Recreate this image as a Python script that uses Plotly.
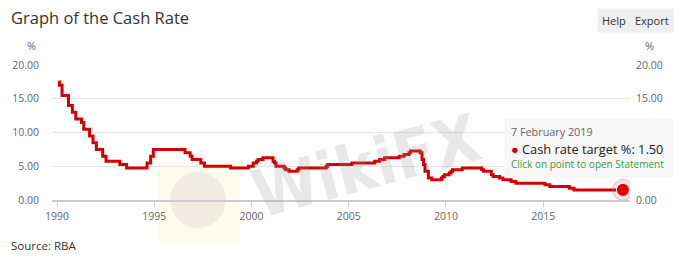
import plotly.graph_objects as go

# RBA cash rate target changes (date of change, new rate %)
change_dates = ["1990-01-23","1990-02-15","1990-04-04","1990-08-02","1990-10-15","1990-12-18",
    "1991-04-04","1991-05-16","1991-09-03","1991-11-06","1992-01-08","1992-05-06","1992-07-08",
    "1993-03-23","1993-07-30","1994-08-17","1994-10-24","1994-12-14","1996-07-31","1996-11-06",
    "1996-12-11","1997-05-23","1997-07-30","1998-12-02","1999-11-03","2000-02-02","2000-04-05",
    "2000-05-03","2000-08-02","2001-02-07","2001-03-07","2001-04-04","2001-09-05","2001-10-03",
    "2001-12-05","2002-05-08","2002-06-05","2003-11-05","2003-12-03","2005-03-02","2006-05-03",
    "2006-08-02","2006-11-08","2007-08-08","2007-11-07","2008-02-06","2008-03-05","2008-09-03",
    "2008-10-08","2008-11-05","2008-12-03","2009-02-04","2009-04-08","2009-10-07","2009-11-04",
    "2009-12-02","2010-03-03","2010-04-07","2010-05-05","2010-11-03","2011-11-02","2011-12-07",
    "2012-05-02","2012-06-06","2012-10-03","2012-12-05","2013-05-08","2013-08-07","2015-02-04",
    "2015-05-06","2016-05-04","2016-08-03","2019-02-07"]
cash_rate = [17.5,17.0,15.5,14.0,13.0,12.0,11.5,10.5,9.5,8.5,7.5,6.5,5.75,5.25,4.75,5.5,6.5,7.5,
    7.0,6.5,6.0,5.5,5.0,4.75,5.0,5.5,5.75,6.0,6.25,5.75,5.5,5.0,4.75,4.5,4.25,4.5,4.75,5.0,5.25,
    5.5,5.75,6.0,6.25,6.5,6.75,7.0,7.25,7.0,6.0,5.25,4.25,3.25,3.0,3.25,3.5,3.75,4.0,4.25,4.5,
    4.75,4.5,4.25,3.75,3.5,3.25,3.0,2.75,2.5,2.25,2.0,1.75,1.5,1.5]

y_ticks = [0, 5, 10, 15, 20]
y_ticktext = ["0.00", "5.00", "10.00", "15.00", "20.00"]
# right axis: 5.00 and 10.00 are covered by the tooltip in the reference
y2_ticktext = ["0.00", "", "", "15.00", "20.00"]
x_ticks = ["1990-01-01", "1995-01-01", "2000-01-01", "2005-01-01", "2010-01-01", "2015-01-01"]
x_ticktext = ["1990", "1995", "2000", "2005", "2010", "2015"]

FONT = "Open Sans"
RED = "#d40000"

fig = go.Figure()

fig.add_trace(go.Scatter(x=change_dates, y=cash_rate, mode="lines", line_shape="hv",
                         line=dict(color=RED, width=3), hoverinfo="skip"))
# invisible copy to activate the right axis
fig.add_trace(go.Scatter(x=change_dates, y=cash_rate, mode="lines", yaxis="y2",
                         line=dict(color="rgba(0,0,0,0)", width=0), hoverinfo="skip"))
# highlighted last point
fig.add_trace(go.Scatter(x=[change_dates[-1]], y=[cash_rate[-1]], mode="markers",
                         marker=dict(size=21, color="rgba(230,60,60,0.15)",
                                     line=dict(color="rgba(230,80,80,0.35)", width=1)),
                         hoverinfo="skip"))
fig.add_trace(go.Scatter(x=[change_dates[-1]], y=[cash_rate[-1]], mode="markers",
                         marker=dict(size=13, color="#e00000", line=dict(color="white", width=1)),
                         hoverinfo="skip"))

# plot area: x 52..630, y 65..200 px
def px(x):
    return (x - 52) / 578.0

def py(y):
    return (200 - y) / 135.0

shapes = [
    # watermark logo block
    dict(type="rect", xref="paper", yref="paper", x0=px(158), x1=px(240), y0=py(241), y1=py(162),
         fillcolor="rgba(250,232,170,0.2)", line=dict(width=0), layer="below"),
    dict(type="circle", xref="paper", yref="paper", x0=px(170), x1=px(226), y0=py(228), y1=py(172),
         fillcolor="rgba(150,150,150,0.13)", line=dict(width=0), layer="below"),
]

annotations = [
    dict(text="<b>WikiFX</b>", xref="paper", yref="paper", x=px(366), y=py(166), showarrow=False,
         font=dict(family="DejaVu Sans Condensed", size=66, color="rgba(150,150,150,0.22)"),
         textangle=-15, xanchor="center", yanchor="middle"),
    dict(text="%", xref="paper", yref="paper", x=px(38), y=py(45), xanchor="right", yanchor="middle",
         showarrow=False, font=dict(family=FONT, size=11, color="#666")),
    dict(text="%", xref="paper", yref="paper", x=px(649), y=py(45), xanchor="center", yanchor="middle",
         showarrow=False, font=dict(family=FONT, size=11, color="#666")),
    dict(text="Help", xref="paper", yref="paper", x=px(614), y=py(20), xanchor="center", yanchor="middle",
         showarrow=False, bgcolor="#efefef", borderpad=4, font=dict(family=FONT, size=11, color="#333")),
    dict(text="Export", xref="paper", yref="paper", x=px(652), y=py(20), xanchor="center", yanchor="middle",
         showarrow=False, bgcolor="#efefef", borderpad=4, font=dict(family=FONT, size=11, color="#333")),
    dict(text="Source: RBA", xref="paper", yref="paper", x=px(9), y=py(245), xanchor="left", yanchor="middle",
         showarrow=False, font=dict(family=FONT, size=11.5, color="#333")),
    # tooltip box (annotation so it sits above axis labels)
    dict(text="", xref="paper", yref="paper", x=px(504), y=py(118), xanchor="left", yanchor="top",
         width=168, height=58, showarrow=False, bgcolor="rgba(247,247,247,0.97)", borderpad=0),
    dict(text="7 February 2019", xref="paper", yref="paper", x=px(510), y=py(131.5), xanchor="left",
         yanchor="middle", showarrow=False, borderpad=0, font=dict(family=FONT, size=10.8, color="#666")),
    dict(text="<span style='color:#d40000'>●</span> Cash rate target %: 1.50", xref="paper", yref="paper",
         x=px(510), y=py(148.5), xanchor="left", yanchor="middle", showarrow=False, borderpad=0,
         font=dict(family=FONT, size=12.8, color="#222")),
    dict(text="Click on point to open Statement", xref="paper", yref="paper", x=px(510), y=py(164),
         xanchor="left", yanchor="middle", showarrow=False, borderpad=0,
         font=dict(family=FONT, size=10, color="#3a9a3a")),
]

fig.update_layout(
    width=680, height=258,
    margin=dict(l=52, r=50, t=65, b=58, autoexpand=False),
    paper_bgcolor="white", plot_bgcolor="white",
    showlegend=False,
    font=dict(family=FONT, color="#666"),
    title=dict(text="Graph of the Cash Rate", x=11 / 680, xanchor="left", xref="container",
               y=1 - 18 / 258, yanchor="middle", yref="container",
               font=dict(family=FONT, size=16.5, color="#333")),
    xaxis=dict(type="date", range=["1989-09-27", "2019-06-20"], tickvals=x_ticks, ticktext=x_ticktext,
               automargin=False,
               showgrid=False, showline=True, linecolor="#ccc", linewidth=2, zeroline=False,
               ticks="outside", ticklen=5, tickcolor="#ccc", tickwidth=1,
               tickfont=dict(family=FONT, size=10.5, color="#666")),
    yaxis=dict(range=[0, 20], tickvals=y_ticks, ticktext=y_ticktext, showgrid=True, automargin=False,
               gridcolor="#e6e6e6", gridwidth=1, zeroline=False, showline=False,
               ticklabelstandoff=12, tickfont=dict(family=FONT, size=10.5, color="#666")),
    yaxis2=dict(range=[0, 20], tickvals=y_ticks, ticktext=y2_ticktext, overlaying="y", side="right",
                showgrid=False, zeroline=False, showline=False, ticklabelstandoff=5, automargin=False,
                tickfont=dict(family=FONT, size=10.5, color="#666")),
    shapes=shapes,
    annotations=annotations,
)

fig.write_html("out.html")
